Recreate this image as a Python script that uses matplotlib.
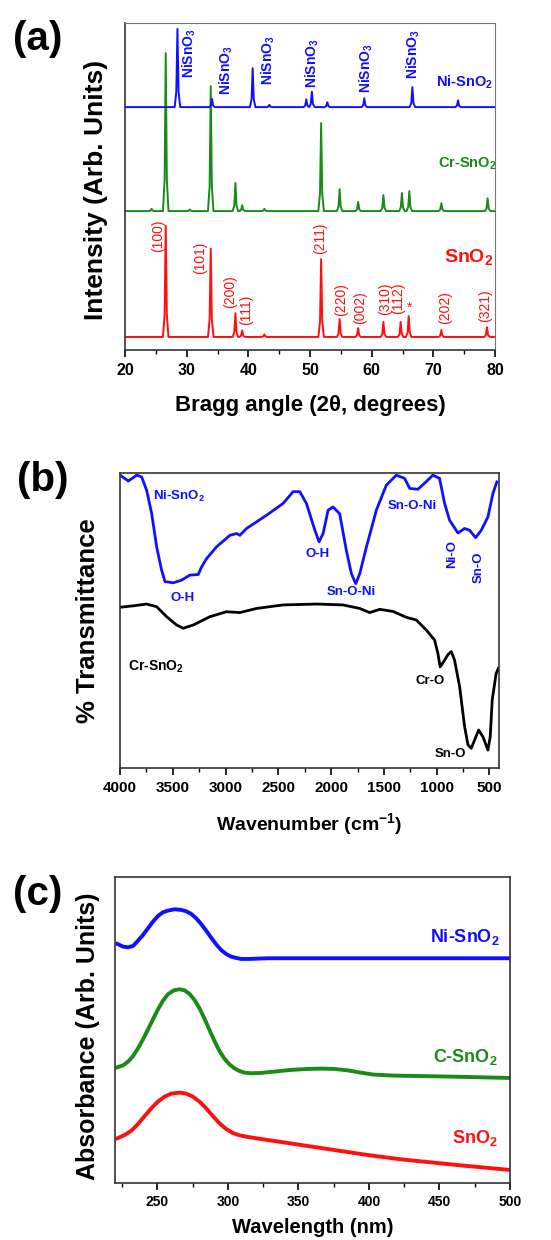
import numpy as np
import matplotlib
matplotlib.use("agg")
import matplotlib.pyplot as plt
from matplotlib.ticker import MultipleLocator

plt.rcParams['font.family'] = ['Liberation Sans', 'DejaVu Sans']
plt.rcParams['font.weight'] = 'bold'
plt.rcParams['mathtext.default'] = 'regular'

BLUE = '#1010ff'
GREEN = '#1a8a1a'
RED = '#ff1010'

# ---------------- (a) XRD data: peak positions / heights
sno2_base = 4.0
sno2_pos = [26.6, 33.9, 37.9, 39.0, 42.6, 51.8, 54.8, 57.8, 61.9, 64.7, 66.0, 71.3, 78.7]
sno2_top = [38.0, 31.0, 11.3, 6.0, 4.8, 27.8, 9.5, 6.7, 8.6, 8.6, 10.4, 6.1, 7.0]

cr_base = 42.5
cr_pos = [24.3, 26.6, 30.5, 33.9, 37.9, 39.0, 42.6, 51.8, 54.8, 57.8, 61.9, 64.9, 66.1, 71.3, 78.8]
cr_top = [43.2, 90.8, 43.0, 80.7, 51.1, 44.3, 43.2, 69.4, 49.2, 45.3, 47.4, 48.0, 48.6, 44.9, 46.4]

ni_base = 74.3
ni_pos = [28.5, 34.1, 40.7, 43.4, 49.4, 50.3, 52.8, 58.8, 66.6, 74.0]
ni_top = [98.2, 76.8, 86.2, 75.0, 76.7, 79.0, 75.8, 77.0, 80.4, 76.4]

hkl_labels = ['(100)', '(101)', '(200)', '(111)', '(211)', '(220)', '(002)',
              '(310)', '(112)', '*', '(202)', '(321)']
hkl_x = [25.4, 32.2, 37.0, 39.7, 51.7, 55.1, 58.1, 62.2, 64.3, 66.2, 71.9, 78.4]
hkl_y = [35.0, 28.3, 17.9, 12.2, 34.1, 15.4, 13.0, 15.8, 15.8, 12.8, 13.0, 13.5]

nisno3_x = [30.5, 36.5, 43.2, 50.3, 59.2, 66.8]
nisno3_y = [90.8, 85.6, 88.7, 87.8, 86.1, 90.5]

# ---------------- (b) FTIR data
ni_wn = [4000, 3921, 3842, 3795, 3748, 3700, 3653, 3606, 3574, 3495, 3417, 3338, 3259,
         3227, 3180, 3085, 2959, 2896, 2865, 2802, 2612, 2455, 2360, 2297, 2234, 2155,
         2114, 2076, 2029, 1982, 1919, 1856, 1808, 1767, 1729, 1666, 1572, 1477, 1382,
         1304, 1256, 1178, 1099, 1036, 973, 925, 878, 799, 736, 688, 631, 578, 515, 468, 430]
ni_tr = [99.3, 97.3, 99.3, 98.7, 94.2, 86.3, 75.0, 67.1, 63.2, 62.8, 63.7, 65.4, 65.6,
         68.2, 71.0, 75.0, 78.9, 79.5, 78.9, 81.2, 85.7, 89.7, 93.7, 93.7, 89.7, 80.7,
         76.7, 79.5, 87.4, 88.5, 86.2, 73.8, 65.9, 62.5, 65.9, 74.9, 87.4, 95.9, 99.3,
         98.2, 94.8, 94.5, 97.1, 99.3, 98.2, 89.7, 84.0, 79.7, 81.2, 80.6, 78.1, 80.6, 85.1, 93.0, 97.0]

cr_wn = [4000, 3874, 3748, 3653, 3558, 3464, 3401, 3306, 3149, 2991, 2865, 2707, 2455,
         2139, 1887, 1729, 1635, 1540, 1414, 1288, 1193, 1099, 1020, 989, 967, 925, 894,
         862, 831, 783, 736, 704, 673, 641, 603, 562, 515, 493, 474, 437, 415]
cr_tr = [54.5, 55.0, 55.6, 54.7, 51.3, 48.5, 47.4, 48.5, 51.3, 53.0, 52.7, 54.1, 55.3,
         55.6, 55.3, 54.1, 52.7, 53.8, 53.1, 51.1, 50.2, 46.8, 43.4, 38.9, 34.3, 36.6, 38.4,
         39.5, 36.6, 27.6, 14.1, 7.9, 6.7, 9.5, 12.9, 10.6, 6.1, 10.6, 23.1, 32.1, 33.8]

# ---------------- (c) UV-Vis data
uv_ni_wl = [221.75, 225.75, 229.28, 232.82, 236.35, 239.88, 243.41, 246.94, 250.47, 254.0,
            257.53, 262.24, 266.95, 270.48, 274.01, 277.54, 281.07, 284.6, 288.14, 291.67,
            295.2, 298.73, 302.26, 305.79, 309.32, 315.21, 328.15, 500]
uv_ni_ab = [78.10, 77.23, 77.01, 77.45, 79.19, 81.05, 83.22, 85.40, 87.25, 88.45,
            89.00, 89.43, 89.22, 88.78, 87.91, 86.49, 84.64, 82.46, 80.17, 78.00,
            76.14, 74.84, 73.96, 73.53, 73.20, 73.20, 73.42, 73.42]

uv_c_wl = [221.75, 225.75, 229.28, 232.82, 236.35, 239.88, 243.41, 246.94, 250.47, 254.0,
           257.53, 261.77, 265.77, 269.3, 272.83, 276.37, 279.9, 283.43, 286.96, 290.49,
           294.02, 297.55, 301.08, 304.61, 308.14, 311.68, 316.38, 323.45, 332.86, 344.63,
           356.4, 365.82, 375.24, 384.65, 394.07, 403.48, 417.61, 445.86, 469.4, 500]
uv_c_ab = [37.80, 38.45, 39.65, 41.50, 44.01, 46.95, 50.22, 53.49, 56.75, 59.59,
           61.66, 62.96, 63.29, 62.96, 61.76, 59.80, 57.08, 53.70, 50.00, 46.41,
           43.14, 40.63, 38.78, 37.47, 36.60, 36.06, 35.84, 35.95, 36.38, 36.93,
           37.25, 37.36, 37.25, 36.82, 36.06, 35.40, 35.08, 34.86, 34.64, 34.31]

uv_s_wl = [221.75, 226.93, 231.64, 236.35, 241.05, 245.76, 250.47, 255.18, 259.89, 265.77,
           270.48, 275.19, 279.9, 284.6, 289.31, 294.02, 298.73, 303.44, 308.14, 314.03,
           328.15, 351.69, 375.24, 398.78, 422.32, 445.86, 469.4, 500]
uv_s_ab = [14.60, 15.69, 17.10, 19.28, 21.90, 24.40, 26.58, 28.21, 29.19, 29.52,
           29.19, 28.21, 26.58, 24.40, 21.90, 19.50, 17.65, 16.34, 15.58, 15.03,
           14.05, 12.42, 10.78, 9.15, 7.74, 6.64, 5.56, 4.25]


def xrd_trace(pos, top, base, lo=20, hi=80):
    """ polyline with a sharp spike at each peak """
    xs, ys = [lo], [base]
    for p, h in zip(pos, top):
        xs += [p - 0.45, p - 0.18, p, p + 0.18, p + 0.45]
        ys += [base, base + 0.2 * (h - base), h, base + 0.2 * (h - base), base]
    xs.append(hi)
    ys.append(base)
    return xs, ys


def style_axes(ax, fs=11):
    ax.set_yticks([])
    ax.tick_params(axis='x', which='both', direction='out', labelsize=fs, pad=4)
    ax.tick_params(axis='x', which='major', length=5, width=1.2)
    ax.tick_params(axis='x', which='minor', length=3, width=1.0)
    for s in ax.spines.values():
        s.set_linewidth(1.2)
        s.set_color('#333333')
    for lab in ax.get_xticklabels():
        lab.set_fontweight('bold')


fig = plt.figure(figsize=(5.51, 12.4), dpi=100)

# ---------------- panel (a)
ax = fig.add_axes([0.2269, 0.7177, 0.6715, 0.2637])
for pos, top, base, c in [(sno2_pos, sno2_top, sno2_base, RED),
                          (cr_pos, cr_top, cr_base, GREEN),
                          (ni_pos, ni_top, ni_base, BLUE)]:
    xs, ys = xrd_trace(pos, top, base)
    ax.plot(xs, ys, color=c, lw=1.4)
ax.set_xlim(20, 80)
ax.set_ylim(0, 100)
ax.xaxis.set_major_locator(MultipleLocator(10))
ax.xaxis.set_minor_locator(MultipleLocator(5))
style_axes(ax, 11.5)
ax.spines['top'].set_color('#777777')
ax.spines['right'].set_color('#777777')
ax.spines['top'].set_linewidth(0.8)
ax.spines['right'].set_linewidth(0.8)
for lab, x, y in zip(hkl_labels, hkl_x, hkl_y):
    ax.text(x, y, lab, color=RED, rotation=0 if lab == '*' else 90, fontsize=10,
            fontweight='normal', ha='center', va='center')
for x, y in zip(nisno3_x, nisno3_y):
    ax.text(x, y, 'NiSnO$_3$', color=BLUE, rotation=90, fontsize=10,
            fontweight='bold', ha='center', va='center')
ax.text(79.7, 82, 'Ni-SnO$_2$', color=BLUE, fontsize=10.5, ha='right', va='center')
ax.text(80.3, 57, 'Cr-SnO$_2$', color=GREEN, fontsize=10.5, ha='right', va='center')
ax.text(79.7, 28.5, 'SnO$_2$', color=RED, fontsize=14, ha='right', va='center')
ax.set_ylabel('Intensity (Arb. Units)', fontsize=19, fontweight='bold')
ax.yaxis.set_label_coords(-0.046, 0.49)
ax.set_xlabel('Bragg angle (2θ, degrees)', fontsize=16, fontweight='bold')
ax.xaxis.set_label_coords(0.5, -0.138)
fig.text(0.068, 1 - 39 / 1240, '(a)', fontsize=29, fontweight='bold', ha='center', va='center')

# ---------------- panel (b)
ax = fig.add_axes([0.2178, 0.3806, 0.6878, 0.2379])
ax.plot(ni_wn, ni_tr, color=BLUE, lw=2.0)
ax.plot(cr_wn, cr_tr, color='black', lw=2.0)
ax.set_xlim(4000, 410)
ax.set_ylim(0, 100)
ax.xaxis.set_major_locator(MultipleLocator(500))
ax.xaxis.set_minor_locator(MultipleLocator(250))
style_axes(ax, 11)
ax.text(3691, 92, 'Ni-SnO$_2$', color=BLUE, fontsize=9.5, ha='left', va='center')
ax.text(3407, 57.5, 'O-H', color=BLUE, fontsize=9.5, ha='center', va='center')
ax.text(2133, 72.5, 'O-H', color=BLUE, fontsize=9.5, ha='center', va='center')
ax.text(1808, 59.8, 'Sn-O-Ni', color=BLUE, fontsize=9.5, ha='center', va='center')
ax.text(1234, 88.9, 'Sn-O-Ni', color=BLUE, fontsize=9.5, ha='center', va='center')
ax.text(853, 72.5, 'Ni-O', color=BLUE, fontsize=9.5, rotation=90, ha='center', va='center')
ax.text(604, 68, 'Sn-O', color=BLUE, fontsize=9.5, rotation=90, ha='center', va='center')
ax.text(3927, 34.3, 'Cr-SnO$_2$', color='black', fontsize=10, ha='left', va='center')
ax.text(1058, 29.5, 'Cr-O', color='black', fontsize=9.5, ha='center', va='center')
ax.text(871, 4.6, 'Sn-O', color='black', fontsize=9.5, ha='center', va='center')
ax.set_ylabel('% Transmittance', fontsize=18.5, fontweight='bold')
ax.yaxis.set_label_coords(-0.053, 0.5)
ax.set_xlabel('Wavenumber (cm$^{-1}$)', fontsize=14, fontweight='bold')
ax.xaxis.set_label_coords(0.5, -0.146)
fig.text(0.077, 1 - 480 / 1240, '(b)', fontsize=29, fontweight='bold', ha='center', va='center')

# ---------------- panel (c)
ax = fig.add_axes([0.2087, 0.046, 0.7169, 0.2468])
ax.plot(uv_ni_wl, uv_ni_ab, color=BLUE, lw=2.8)
ax.plot(uv_c_wl, uv_c_ab, color=GREEN, lw=2.8)
ax.plot(uv_s_wl, uv_s_ab, color=RED, lw=2.8)
ax.set_xlim(220, 500)
ax.set_ylim(0, 100)
ax.xaxis.set_major_locator(MultipleLocator(50))
ax.xaxis.set_minor_locator(MultipleLocator(25))
style_axes(ax, 10)
ax.text(492.5, 80.5, 'Ni-SnO$_2$', color=BLUE, fontsize=13, ha='right', va='center')
ax.text(491.5, 41.3, 'C-SnO$_2$', color=GREEN, fontsize=13, ha='right', va='center')
ax.text(491, 14.6, 'SnO$_2$', color=RED, fontsize=13, ha='right', va='center')
ax.set_ylabel('Absorbance (Arb. Units)', fontsize=18, fontweight='bold')
ax.yaxis.set_label_coords(-0.038, 0.48)
ax.set_xlabel('Wavelength (nm)', fontsize=14.5, fontweight='bold')
ax.xaxis.set_label_coords(0.5, -0.114)
fig.text(0.068, 1 - 894 / 1240, '(c)', fontsize=29, fontweight='bold', ha='center', va='center')

fig.savefig('out.png', dpi=100)
